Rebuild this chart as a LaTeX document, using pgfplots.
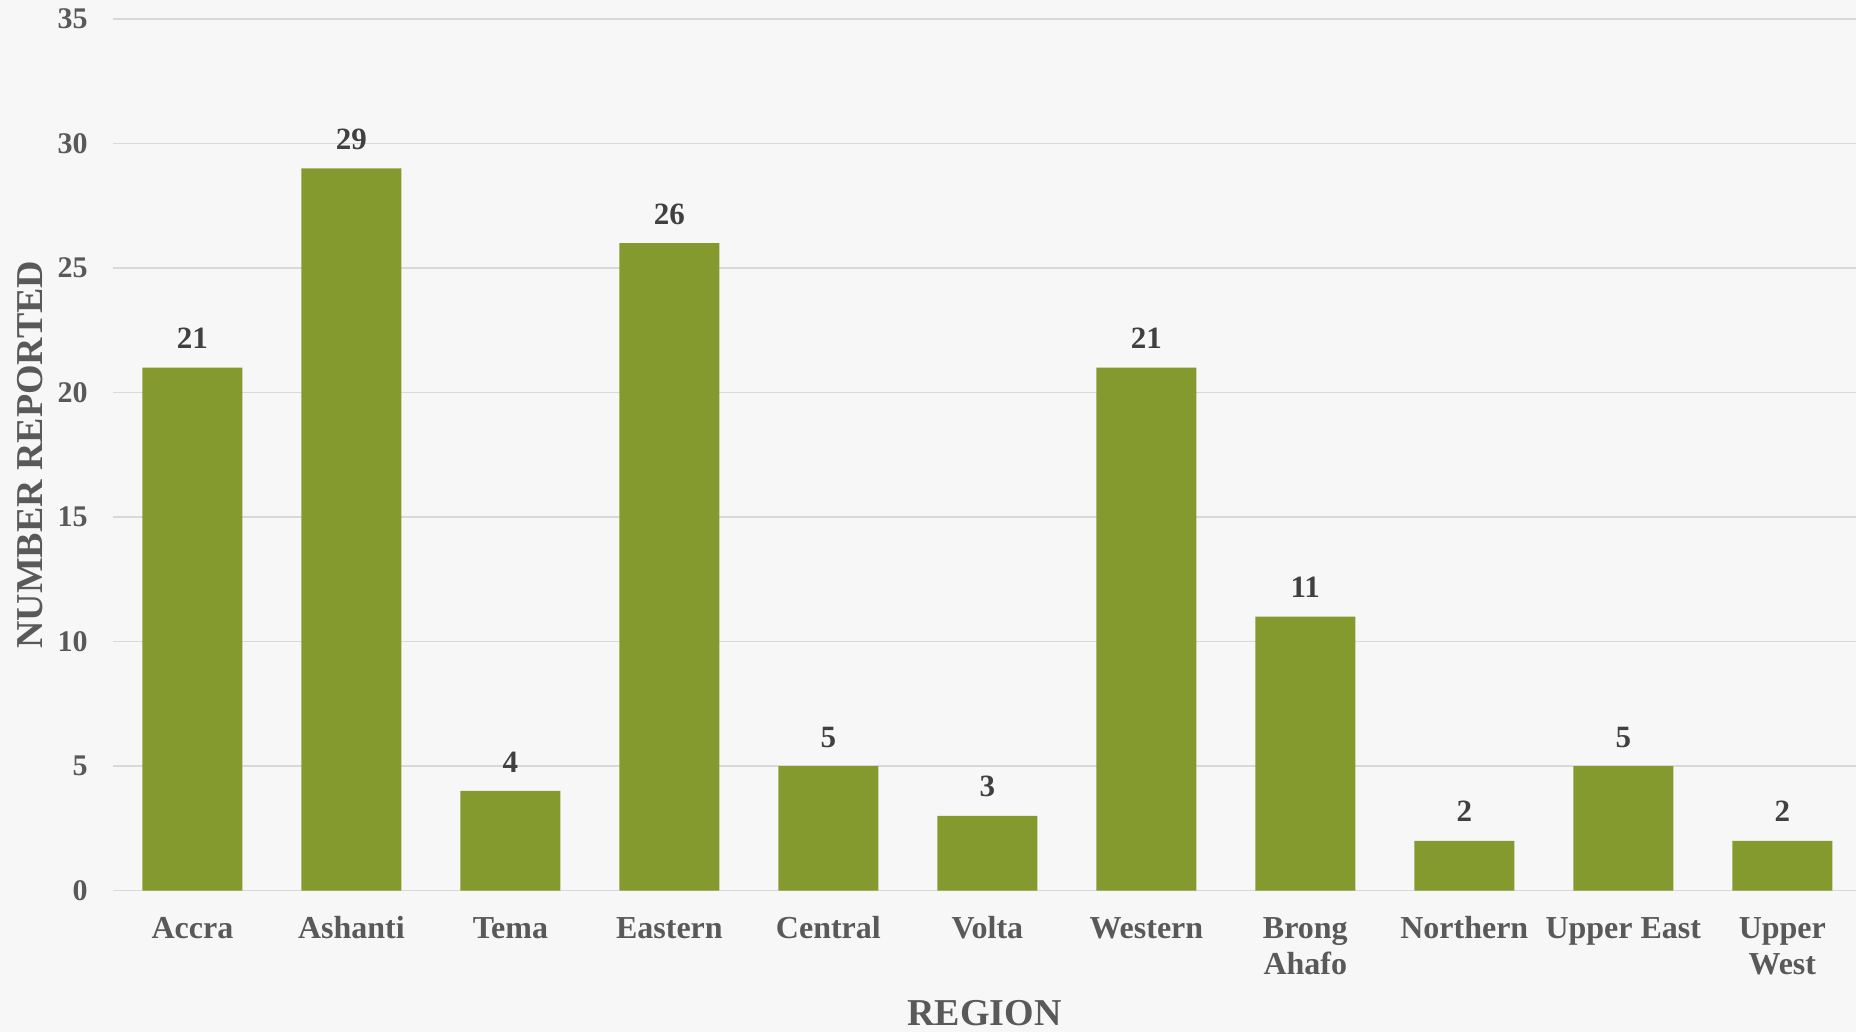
\documentclass[border=0pt]{standalone}
\usepackage{fontspec}
\setmainfont{Liberation Serif}
\usepackage{pgfplots}
\pgfplotsset{compat=1.18}
\definecolor{bg}{HTML}{F7F7F7}
\definecolor{bargreen}{HTML}{849A2E}
\definecolor{txtgray}{HTML}{595959}
\definecolor{lblgray}{HTML}{404040}
\definecolor{gridgray}{HTML}{D9D9D9}
\newcommand{\two}[2]{\begin{tabular}[t]{@{}c@{}}#1\\#2\end{tabular}}
\begin{document}
\begin{tikzpicture}
\fill[bg] (-56.5pt,-70.5pt) rectangle (872pt,445.5pt);
\begin{axis}[
    at={(0,0)}, anchor=south west,
    scale only axis,
    width=872pt, height=436pt,
    ybar, bar width=50pt,
    xmin=-0.5, xmax=10.465,
    ymin=0, ymax=35,
    ytick={0,5,...,35},
    xtick=data,
    xticklabels={Accra, Ashanti, Tema, Eastern, Central, Volta, Western,
      \two{Brong}{Ahafo}, Northern, Upper East, \two{Upper}{West}},
    major tick length=0pt,
    axis line style={draw=none},
    ymajorgrids=true,
    grid style={gridgray, line width=0.8pt},
    /pgf/number format/assume math mode=true,
    yticklabel style={font=\fontsize{15}{18}\selectfont\bfseries, text=txtgray,
      anchor=east, inner sep=0pt, xshift=-12.5pt},
    xticklabel style={font=\fontsize{16}{18}\selectfont\bfseries, text=txtgray,
      anchor=base, inner sep=0pt, yshift=-24pt},
    xlabel={REGION},
    ylabel={NUMBER REPORTED},
    xlabel style={font=\fontsize{19}{22}\selectfont\bfseries, text=txtgray,
      at={(axis description cs:0.5,0)}, anchor=base, inner sep=0pt, yshift=-67.5pt},
    ylabel style={font=\fontsize{19}{22}\selectfont\bfseries, text=txtgray,
      at={(axis description cs:0,0.5)}, anchor=center, inner sep=0pt, yshift=41.5pt},
    nodes near coords,
    every node near coord/.append style={font=\fontsize{15.5}{18}\selectfont\bfseries,
      text=lblgray, anchor=base, inner sep=0pt, yshift=9.5pt},
]
\addplot[fill=bargreen, draw=none] coordinates {
  (0,21) (1,29) (2,4) (3,26) (4,5) (5,3) (6,21) (7,11) (8,2) (9,5) (10,2)};
\end{axis}
\end{tikzpicture}
\end{document}
